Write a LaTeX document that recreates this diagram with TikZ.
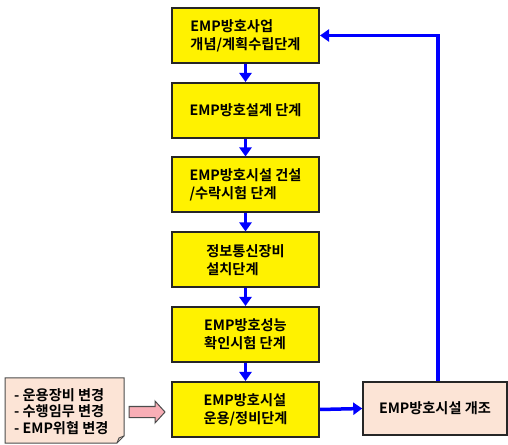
\documentclass[tikz,border=0pt]{standalone}
\usepackage{fontspec}
\setmainfont{Noto Sans CJK KR}[BoldFont={Noto Sans CJK KR Bold}]
\usetikzlibrary{arrows.meta}
\definecolor{peach}{HTML}{FCE4D6}
\definecolor{pinkarr}{HTML}{F8AEB6}
\tikzset{
  x=1pt,y=1pt,
  stage/.style={draw=black!85,line width=2pt,fill=yellow,minimum width=147pt,minimum height=55pt,
    align=left,font=\bfseries\fontsize{14.2}{18}\selectfont,inner sep=0pt},
  flow/.style={draw=blue,line width=3.5pt,-{Triangle[width=12pt,length=9pt]}},
}
\begin{document}
\begin{tikzpicture}
\useasboundingbox (0,0) rectangle (508,444);
\node[stage] (s1) at (245.5,408.5) {EMP방호사업\\개념/계획수립단계};
\node[stage] (s2) at (245.5,333.5) {EMP방호설계 단계};
\node[stage] (s3) at (245.5,259) {EMP방호시설 건설\\/수락시험 단계};
\node[stage] (s4) at (245.5,184) {정보통신장비\\설치단계};
\node[stage] (s5) at (245.5,109.5) {EMP방호성능\\확인시험 단계};
\node[stage] (s6) at (245.5,34.5) {EMP방호시설\\운용/정비단계};
\node[draw=black!85,line width=1.5pt,fill=peach,minimum width=144pt,minimum height=53pt,
  font=\bfseries\fontsize{14.2}{18}\selectfont,inner sep=0pt] (rb) at (435,35.5) {EMP방호시설 개조};
\foreach \a/\b in {s1/s2,s2/s3,s3/s4,s4/s5,s5/s6}
  \draw[flow,line width=3pt] (\a.south) -- (\b.north);
\draw[flow] (s6.east) -- (rb.west);
\coordinate (c1) at (438,408.5);
\draw[flow] (rb.north -| c1) -- (c1) -- (s1.east);
% note
\draw[draw=black!70,line width=1pt,fill=peach] (5,66) -- (124,66) -- (124,8) -- (117,1) -- (5,1) -- cycle;
\draw[draw=black!70,line width=1pt] (117,1) -- (119,6) -- (124,8);
\node[align=left,anchor=west,font=\bfseries\fontsize{14.2}{16.5}\selectfont,inner sep=0pt] (nt) at (14,32.5)
  {- 운용장비 변경\\- 수행임무 변경\\- EMP위협 변경};
% pink block arrow
\coordinate (pa) at (129,32);
\draw[draw=black!70,line width=1pt,fill=pinkarr]
  (pa) ++(0,5.5) -- ++(26,0) -- ++(0,5.5) -- ++(10,-11) -- ++(-10,-11) -- ++(0,5.5) -- ++(-26,0) -- cycle;
\end{tikzpicture}
\end{document}
